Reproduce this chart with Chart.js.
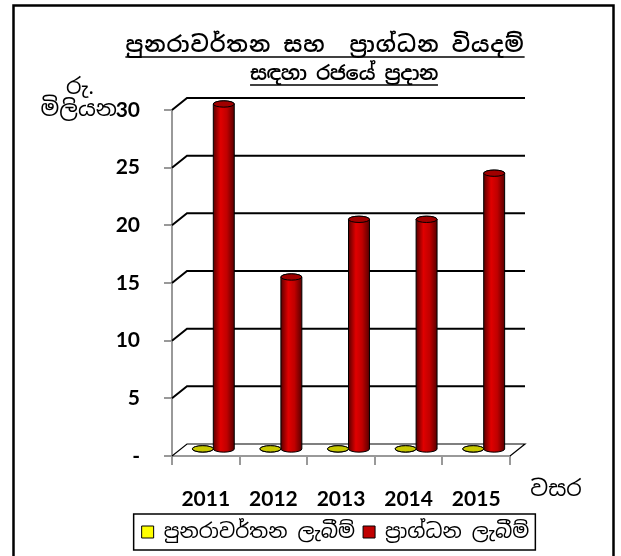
<!DOCTYPE html>
<html>
<head>
<meta charset="utf-8">
<script src="https://cdn.jsdelivr.net/npm/chart.js@4.4.0/dist/chart.umd.min.js"></script>
<style>
  html, body { margin: 0; padding: 0; background: #fff; }
  #wrap { width: 621px; height: 556px; }
</style>
</head>
<body>
<div id="wrap"><canvas id="grantChart" width="621" height="556"></canvas></div>
<script>
const years = ['2011', '2012', '2013', '2014', '2015'];
const recurrentGrants = [0.1, 0.1, 0.1, 0.1, 0.1];
const capitalGrants = [30, 15, 20, 20, 24];
const yTickStep = 5;
const yMax = 30;
const seriesNames = ['පුනරාවර්තන ලැබීම්', 'ප්\u200Dරාග්ධන ලැබීම්'];
const titleLines = ['පුනරාවර්තන සහ  ප්\u200Dරාග්ධන වියදම්', 'සඳහා රජයේ ප්\u200Dරදාන'];
const yAxisTitle = ['රු.', 'මිලියන'];
const xAxisTitle = 'වසර';

const sinhalaFont = '"Noto Sans Sinhala", "Noto Sans", sans-serif';
const numFont = 'Lato, "Open Sans", sans-serif';

// depth of the fake 3d box
const DX = 15, DY = -12;

function drawCylinder(ctx, cx, top, bot, r, c) {
    const ry = r * 0.3;
    const grad = ctx.createLinearGradient(cx - r, 0, cx + r, 0);
    grad.addColorStop(0, c.dark);
    grad.addColorStop(0.35, c.light);
    grad.addColorStop(0.65, c.mid);
    grad.addColorStop(1, c.dark);

    ctx.beginPath();
    ctx.moveTo(cx - r, top);
    ctx.lineTo(cx - r, bot);
    ctx.ellipse(cx, bot, r, ry, 0, Math.PI, 0, true);
    ctx.lineTo(cx + r, top);
    ctx.ellipse(cx, top, r, ry, 0, 0, -Math.PI, true);
    ctx.closePath();
    ctx.fillStyle = grad;
    ctx.fill();
    ctx.lineWidth = 1;
    ctx.strokeStyle = '#000';
    ctx.stroke();

    ctx.beginPath();
    ctx.ellipse(cx, top, r, ry, 0, 0, Math.PI * 2);
    ctx.fillStyle = c.top;
    ctx.fill();
    ctx.stroke();
}

const cylinderColors = [
    { dark: '#8a8a00', light: '#e6e600', mid: '#cccc00', top: '#c8c800' },
    { dark: '#5a0000', light: '#e00000', mid: '#c00000', top: '#a00000' }
];

const pseudo3d = {
    id: 'pseudo3d',
    beforeDatasetsDraw(chart) {
        const ctx = chart.ctx;
        const { left, right, bottom } = chart.chartArea;
        const yScale = chart.scales.y;
        ctx.save();
        // floor
        ctx.beginPath();
        ctx.moveTo(left, bottom);
        ctx.lineTo(left + DX, bottom + DY);
        ctx.lineTo(right + DX, bottom + DY);
        ctx.lineTo(right, bottom);
        ctx.lineWidth = 1.2;
        ctx.strokeStyle = '#000';
        ctx.stroke();
        // back wall grid lines
        ctx.lineWidth = 2;
        yScale.ticks.forEach(t => {
            if (t.value === 0) return;
            const py = yScale.getPixelForValue(t.value);
            ctx.beginPath();
            ctx.moveTo(left, py);
            ctx.lineTo(left + DX, py + DY);
            ctx.lineTo(right + DX, py + DY);
            ctx.stroke();
        });
        ctx.restore();
    },
    beforeDatasetDraw(chart, args) {
        const ctx = chart.ctx;
        const c = cylinderColors[args.index];
        ctx.save();
        args.meta.data.forEach(el => {
            const p = el.getProps(['x', 'y', 'base', 'width'], true);
            const r = p.width / 2;
            drawCylinder(ctx, p.x + DX / 2, p.y + DY / 2, p.base + DY / 2, r, c);
        });
        ctx.restore();
        return false;
    },
    afterDraw(chart) {
        const ctx = chart.ctx;
        ctx.save();
        // outer frame
        ctx.lineWidth = 2.5;
        ctx.strokeStyle = '#000';
        ctx.strokeRect(13.5, 5.5, 600, 570);

        // title with underline
        ctx.fillStyle = '#000';
        ctx.textAlign = 'center';
        ctx.textBaseline = 'alphabetic';
        const titleY = [52, 80];
        const titleX = [325, 344];
        const titleSize = [22, 20];
        const titleSpacing = ['1px', '-0.5px'];
        titleLines.forEach((line, i) => {
            ctx.font = '600 ' + titleSize[i] + 'px ' + sinhalaFont;
            ctx.letterSpacing = titleSpacing[i];
            ctx.fillText(line, titleX[i], titleY[i]);
            const w = ctx.measureText(line).width;
            ctx.lineWidth = 1.5;
            ctx.beginPath();
            ctx.moveTo(titleX[i] - w / 2, titleY[i] + 5);
            ctx.lineTo(titleX[i] + w / 2, titleY[i] + 5);
            ctx.stroke();
        });
        ctx.letterSpacing = '0px';

        // axis titles
        ctx.font = '22px ' + sinhalaFont;
        ctx.textBaseline = 'middle';
        ctx.fillText(yAxisTitle[0], 80, 88);
        ctx.textAlign = 'right';
        ctx.fillText(yAxisTitle[1], 117, 110);
        ctx.textAlign = 'center';
        ctx.fillText(xAxisTitle, 556, 490);

        // legend frame
        const boxes = chart.legend.legendHitBoxes;
        if (boxes && boxes.length) {
            const first = boxes[0], last = boxes[boxes.length - 1];
            ctx.lineWidth = 1.5;
            ctx.strokeRect(first.left - 8, first.top - 8,
                last.left + last.width - first.left + 14, first.height + 16);
        }
        ctx.restore();
    }
};

new Chart(document.getElementById('grantChart'), {
    type: 'bar',
    data: {
        labels: years,
        datasets: [
            { label: seriesNames[0], data: recurrentGrants, backgroundColor: '#FFFF00', borderColor: '#000', borderWidth: 1 },
            { label: seriesNames[1], data: capitalGrants, backgroundColor: '#C00000', borderColor: '#000', borderWidth: 1 }
        ]
    },
    options: {
        responsive: false,
        animation: false,
        layout: { padding: { left: 100, right: 50, top: 110, bottom: 4 } },
        categoryPercentage: 0.62,
        barPercentage: 1,
        plugins: {
            title: { display: false },
            tooltip: { enabled: false },
            legend: {
                position: 'bottom',
                labels: {
                    boxWidth: 12,
                    boxHeight: 12,
                    padding: 8,
                    color: '#000',
                    font: { family: sinhalaFont, size: 20 }
                }
            }
        },
        scales: {
            x: {
                grid: { drawOnChartArea: false, color: '#999', tickLength: 9, offset: true, lineWidth: 2 },
                border: { color: '#999', width: 2 },
                ticks: { color: '#000', padding: 22, font: { family: numFont, size: 21, weight: 'bold' } },
                afterFit(s) { s.height = 58; }
            },
            y: {
                min: 0,
                max: yMax,
                grid: { drawOnChartArea: false, color: '#999', tickLength: 8, lineWidth: 2 },
                border: { color: '#999', width: 2 },
                ticks: {
                    stepSize: yTickStep,
                    color: '#000',
                    padding: 24,
                    font: { family: numFont, size: 21, weight: 'bold' },
                    callback: v => v === 0 ? '-' : v
                },
                afterFit(s) { s.width = 72; }
            },
            yRight: {
                position: 'right',
                display: true,
                grid: { display: false },
                border: { display: false },
                ticks: { display: false },
                afterFit(s) { s.width = 61; }
            }
        }
    },
    plugins: [pseudo3d]
});
</script>
</body>
</html>
